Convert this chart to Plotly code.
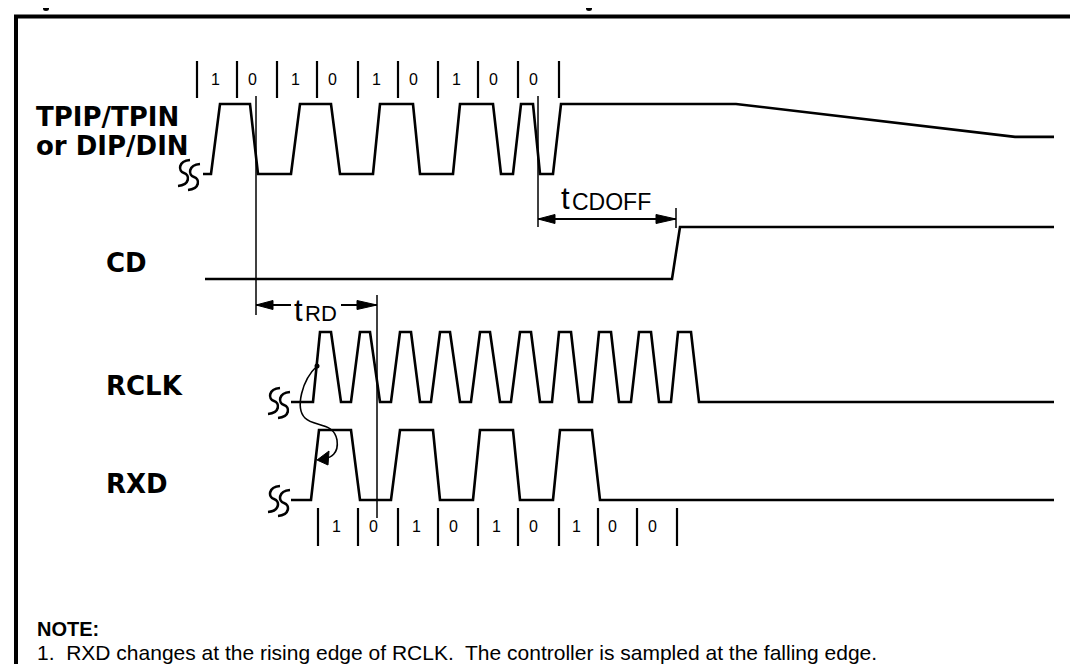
import plotly.graph_objects as go

# ---------------- data ----------------
# transition times (diagram time axis) and logic levels (0 = low, 1 = high)
tpip_t = [195, 203, 212, 242, 250, 283, 292, 323, 332, 365, 372, 405, 412, 445, 452,
          485, 493, 505, 513, 525, 532, 545, 553, 728, 1007, 1046]
tpip_v = [0, 0, 1, 1, 0, 0, 1, 1, 0, 0, 1, 1, 0, 0, 1, 1, 0, 0, 1, 1, 0, 0, 1, 1, 0.53, 0.53]

cd_t = [197, 664, 672, 1046]
cd_v = [0, 0, 1, 1]

rclk_t = [283, 305, 312, 323, 333, 343, 352, 362, 372, 383, 392, 403, 412, 423, 432, 442,
          452, 463, 472, 482, 492, 503, 512, 523, 532, 544, 551, 563, 571, 584, 591, 603,
          611, 623, 631, 643, 651, 663, 670, 683, 691, 1046]
rclk_v = [0, 0, 1, 1, 0, 0, 1, 1, 0, 0, 1, 1, 0, 0, 1, 1,
          0, 0, 1, 1, 0, 0, 1, 1, 0, 0, 1, 1, 0, 0, 1, 1,
          0, 0, 1, 1, 0, 0, 1, 1, 0, 0]

rxd_t = [283, 303, 311, 343, 352, 383, 392, 425, 432, 465, 472, 505, 512, 545, 552, 584, 592, 1046]
rxd_v = [0, 0, 1, 1, 0, 0, 1, 1, 0, 0, 1, 1, 0, 0, 1, 1, 0, 0]

bit_labels = ["1", "0", "1", "0", "1", "0", "1", "0", "0"]
bits_top_edges = [189, 229, 269, 309, 350, 390, 430, 470, 510, 551]
bits_bot_edges = [310, 350, 390, 430, 470, 510, 551, 590, 629, 669]

t_rd = [248, 369]        # start / end of tRD
t_cdoff = [530, 668]     # start / end of tCDOFF

note_title = "NOTE:"
note_text = "1.\u00a0 RXD changes at the rising edge of RCLK.\u00a0 The controller is sampled at the falling edge."

# ---------------- layout constants ----------------
W, H = 1078, 664
LANES = {"TPIP": (96, 166), "CD": (219, 271), "RCLK": (324, 394), "RXD": (422, 492)}
INK = "black"
LABEL_FONT = dict(family="DejaVu Sans", size=26, color=INK)
BIT_FONT = dict(family="Liberation Sans", size=16, color=INK)
DIGIT_SHIFT = {"1": -2, "0": -5}

fig = go.Figure()


def lane_y(lane, vals):
    hi, lo = LANES[lane]
    return [lo - v * (lo - hi) for v in vals]


def add_line(xs, ys, width=2.6):
    fig.add_trace(go.Scatter(x=xs, y=ys, mode="lines", hoverinfo="skip",
                             line=dict(color=INK, width=width), showlegend=False))


def add_tri(pts):
    xs = [p[0] for p in pts] + [pts[0][0]]
    ys = [p[1] for p in pts] + [pts[0][1]]
    fig.add_trace(go.Scatter(x=xs, y=ys, mode="lines", fill="toself", fillcolor=INK,
                             line=dict(color=INK, width=1), hoverinfo="skip", showlegend=False))


def arrow_head(tip_x, tip_y, direction, length=17, half=4.5):
    bx = tip_x - direction * length
    add_tri([(tip_x, tip_y), (bx, tip_y - half), (bx, tip_y + half)])


# waveforms
add_line(tpip_t, lane_y("TPIP", tpip_v))
add_line(cd_t, lane_y("CD", cd_v))
add_line(rclk_t, lane_y("RCLK", rclk_v))
add_line(rxd_t, lane_y("RXD", rxd_v))


# bit cells
def add_bits(edges, y0, y1, ylab):
    xs, ys = [], []
    for e in edges:
        xs += [e, e, None]
        ys += [y0, y1, None]
    add_line(xs, ys, width=2.2)
    for i, lab in enumerate(bit_labels):
        fig.add_annotation(x=(edges[i] + edges[i + 1]) / 2 + DIGIT_SHIFT[lab], y=ylab, text=lab,
                           showarrow=False, font=BIT_FONT, xanchor="center", yanchor="middle")


add_bits(bits_top_edges, 53, 90, 71)
add_bits(bits_bot_edges, 500, 538, 518)

# thin reference lines
ref_xs = [t_rd[0], t_rd[0], None, t_cdoff[0], t_cdoff[0], None, t_rd[1], t_rd[1], None,
          t_cdoff[1], t_cdoff[1]]
ref_ys = [88, 307, None, 88, 219, None, 287, 510, None, 200, 220]
add_line(ref_xs, ref_ys, width=1.5)

# tCDOFF dimension arrow
add_line([t_cdoff[0], t_cdoff[1]], [211, 211], width=2)
arrow_head(t_cdoff[0], 211, -1)
arrow_head(t_cdoff[1], 211, 1, length=20)
fig.add_annotation(x=551, y=190, text="t", showarrow=False, xanchor="left", yanchor="middle",
                   font=dict(family="Liberation Sans", size=31, color=INK))
fig.add_annotation(x=562, y=194, text="CDOFF", showarrow=False, xanchor="left", yanchor="middle",
                   font=dict(family="Liberation Sans", size=23, color=INK))

# tRD dimension arrow
add_line([t_rd[0], 283], [297, 297], width=2)
add_line([333, t_rd[1]], [297, 297], width=2)
arrow_head(t_rd[0], 297, -1)
arrow_head(t_rd[1], 297, 1, length=20)
fig.add_annotation(x=284, y=302, text="t", showarrow=False, xanchor="left", yanchor="middle",
                   font=dict(family="Liberation Sans", size=31, color=INK))
fig.add_annotation(x=295, y=305, text="RD", showarrow=False, xanchor="left", yanchor="middle",
                   font=dict(family="Liberation Sans", size=22, color=INK))

# signal labels
for txt, x, y in [("TPIP/TPIN", 26, 109), ("or DIP/DIN", 26, 138), ("CD", 96, 255),
                  ("RCLK", 96, 378), ("RXD", 96, 476)]:
    fig.add_annotation(x=x, y=y, text="<b>" + txt + "</b>", showarrow=False,
                       xanchor="left", yanchor="middle", font=LABEL_FONT)

# break (squiggle) symbols
shapes = []


def squiggle(cx, cy):
    for dx, dy in [(-5, -2), (5, 2)]:
        x, y = cx + dx, cy + dy
        path = (f"M {x+6},{y-13} C {x-6},{y-12} {x-6},{y-2} {x},{y} "
                f"C {x+6},{y+2} {x+6},{y+12} {x-6},{y+13}")
        shapes.append(dict(type="path", path=path, xref="x", yref="y",
                           line=dict(color=INK, width=2.6)))


squiggle(181, 167)
squiggle(271, 395)
squiggle(271, 493)

# curved arrow RCLK rising edge -> RXD change
shapes.append(dict(type="path", xref="x", yref="y",
                   path="M 309,358 C 294,372 287,400 297,410 C 306,419 326,414 329,432 "
                        "C 331,446 322,450 317,450",
                   line=dict(color=INK, width=1.6)))
shapes.append(dict(type="circle", xref="x", yref="y", x0=306.5, x1=311.5, y0=355.5, y1=360.5,
                   fillcolor=INK, line=dict(color=INK, width=0)))
add_tri([(309, 452), (321, 443), (320, 457)])

# frame (top, left, right; bottom edge is cropped)
shapes.append(dict(type="path", xref="x", yref="y",
                   path=f"M 8,{H+10} L 8,8.5 L 1073,8.5 L 1073,{H+10}",
                   line=dict(color=INK, width=4)))

# remnants of the cropped caption above the frame
for cx in (38, 581):
    shapes.append(dict(type="circle", xref="x", yref="y", x0=cx - 3, x1=cx + 3, y0=-2, y1=3,
                       fillcolor=INK, line=dict(color=INK, width=0)))

# note
fig.add_annotation(x=27, y=621, text="<b>" + note_title + "</b>", showarrow=False,
                   xanchor="left", yanchor="middle",
                   font=dict(family="Liberation Sans", size=20, color=INK))
fig.add_annotation(x=27, y=644, text=note_text, showarrow=False, xanchor="left", yanchor="middle",
                   font=dict(family="Liberation Sans", size=21, color=INK))

fig.update_layout(
    width=W, height=H, autosize=False,
    margin=dict(l=0, r=0, t=0, b=0),
    paper_bgcolor="white", plot_bgcolor="white",
    xaxis=dict(range=[0, W], visible=False, fixedrange=True),
    yaxis=dict(range=[H, 0], visible=False, fixedrange=True),
    shapes=shapes, showlegend=False,
)

fig.write_html("out.html", config={"displayModeBar": False})
